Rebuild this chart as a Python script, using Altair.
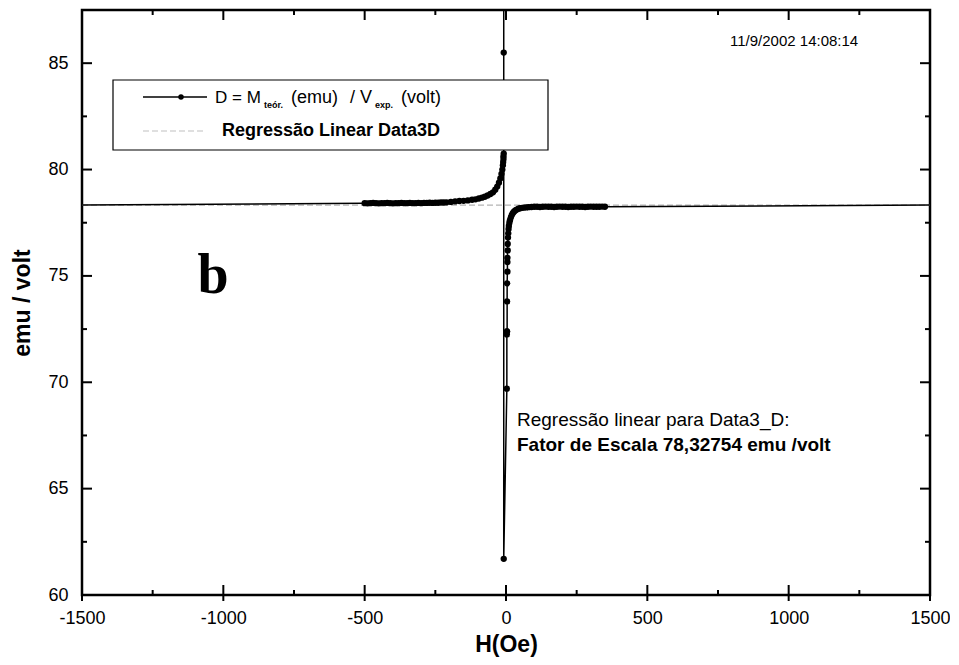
import altair as alt
import pandas as pd

# ---------------- data ----------------
H = [-1500,
     -500, -490, -480, -470, -460, -450, -440, -430, -420, -410, -400, -390, -380, -370, -360,
     -350, -340, -330, -320, -310, -300, -290, -280, -270, -260, -250, -240, -230, -220, -210,
     -195, -180, -165, -150, -135, -120, -108, -96, -85, -75, -65, -55, -46, -38, -31, -25,
     -20, -16, -13, -11, -10, -9, -9, -8, -8, -8, -8,
     -8, 3, 3, 3, 4, 4, 4, 5, 5, 5, 6, 6, 7, 8, 9, 10, 12, 14, 17, 20, 24, 28, 33, 38, 44,
     50, 57, 64, 72, 80, 90, 100, 110, 120, 130, 140, 150, 160, 170, 180, 190, 200, 210, 220,
     230, 240, 250, 260, 270, 280, 290, 300, 310, 320, 330, 340, 350, 1500]
D = [78.33,
     78.42, 78.41, 78.42, 78.43, 78.42, 78.41, 78.42, 78.42, 78.43, 78.42, 78.41, 78.42, 78.42, 78.43, 78.42,
     78.42, 78.43, 78.42, 78.42, 78.43, 78.42, 78.43, 78.43, 78.44, 78.43, 78.44, 78.44, 78.45, 78.45, 78.46,
     78.48, 78.50, 78.52, 78.53, 78.55, 78.58, 78.60, 78.64, 78.68, 78.72, 78.78, 78.85, 78.93, 79.05, 79.20, 79.38,
     79.58, 79.80, 80.00, 80.20, 80.35, 80.50, 80.62, 80.75, 82.0, 92.0, 85.5,
     61.7, 69.7, 72.25, 72.35, 72.4, 73.8, 74.65, 75.2, 75.65, 75.85, 76.2, 76.5, 76.8, 77.0, 77.2, 77.35,
     77.5, 77.62, 77.75, 77.85, 77.95, 78.02, 78.08, 78.12, 78.16,
     78.18, 78.20, 78.21, 78.22, 78.23, 78.24, 78.25, 78.25, 78.24, 78.25, 78.26, 78.25, 78.25, 78.24, 78.25,
     78.26, 78.25, 78.25, 78.24, 78.25, 78.25, 78.26, 78.25, 78.25, 78.24, 78.25, 78.26, 78.25, 78.25, 78.25,
     78.26, 78.25, 78.33]

REG_H = [-1500, 1500]
REG_D = [78.32754, 78.32754]

X_MAJOR = [-1500, -1000, -500, 0, 500, 1000, 1500]
X_MINOR = [-1250, -750, -250, 250, 750, 1250]
Y_MAJOR = [60, 65, 70, 75, 80, 85]
Y_MINOR = [62.5, 67.5, 72.5, 77.5, 82.5]

LEGEND_1 = ["D = M", "teór.", "(emu)", "/ V", "exp.", "(volt)"]
LEGEND_2 = "Regressão Linear Data3D"
NOTE_1 = "Regressão linear para Data3_D:"
NOTE_2 = "Fator de Escala  78,32754 emu /volt"
STAMP = "11/9/2002  14:08:14"
PANEL = "b"

W, HGT = 848, 585
FONT = "Liberation Sans"

df = pd.DataFrame({"H": H, "D": D, "i": list(range(len(H)))})
reg = pd.DataFrame({"H": REG_H, "D": REG_D})

xs = alt.Scale(domain=[-1500, 1500], nice=False, zero=False)
ys = alt.Scale(domain=[60, 87.5], nice=False, zero=False)

x_axis = alt.Axis(values=X_MAJOR, title="H(Oe)", labelPadding=14, titlePadding=6,
                  labelFontSize=18, titleFontSize=23, labelExpr="'' + datum.value",
                  labelFlush=False)
y_axis = alt.Axis(values=Y_MAJOR, title="emu / volt", labelPadding=14, titlePadding=13,
                  labelFontSize=18, titleFontSize=23, labelExpr="'' + datum.value")

reg_line = alt.Chart(reg).mark_line(color="#b4b4b4", strokeWidth=1.2, strokeDash=[6, 3]).encode(
    x=alt.X("H:Q", scale=xs, axis=x_axis),
    y=alt.Y("D:Q", scale=ys, axis=y_axis),
)

data_line = alt.Chart(df).mark_line(color="black", strokeWidth=1.5, clip=True).encode(
    x=alt.X("H:Q", scale=xs),
    y=alt.Y("D:Q", scale=ys),
    order="i:Q",
)
data_pts = alt.Chart(df).transform_filter(
    "abs(datum.H) < 1500"
).mark_circle(color="black", size=40, opacity=1, clip=True).encode(
    x=alt.X("H:Q", scale=xs),
    y=alt.Y("D:Q", scale=ys),
)

def xticks(vals, y0, y1):
    return alt.Chart(pd.DataFrame({"H": vals})).mark_rule(color="black", strokeWidth=2).encode(
        x=alt.X("H:Q", scale=xs), y=alt.value(y0), y2=alt.value(y1))

def yticks(vals, x0, x1):
    return alt.Chart(pd.DataFrame({"D": vals})).mark_rule(color="black", strokeWidth=2).encode(
        y=alt.Y("D:Q", scale=ys), x=alt.value(x0), x2=alt.value(x1))

ticks = [
    xticks(X_MAJOR, 0, 10), xticks(X_MINOR, 0, 5),
    xticks(X_MAJOR, HGT - 10, HGT + 6), xticks(X_MINOR, HGT - 5, HGT),
    yticks(Y_MAJOR, 0, 10), yticks(Y_MINOR, 0, 5),
    yticks(Y_MAJOR, W - 10, W), yticks(Y_MINOR, W - 5, W),
]

# legend box
leg_box = alt.Chart(pd.DataFrame({"k": [0]})).mark_rect(fill="white", stroke="black", strokeWidth=1.2).encode(
    x=alt.value(31), x2=alt.value(466), y=alt.value(70), y2=alt.value(140))
leg_l1 = alt.Chart(pd.DataFrame({"k": [0]})).mark_rule(color="black", strokeWidth=1.3).encode(
    x=alt.value(61), x2=alt.value(125), y=alt.value(87))
leg_p1 = alt.Chart(pd.DataFrame({"k": [0]})).mark_circle(color="black", size=30, opacity=1).encode(
    x=alt.value(99), y=alt.value(87))
leg_l2 = alt.Chart(pd.DataFrame({"k": [0]})).mark_rule(color="#c0c0c0", strokeWidth=1.2, strokeDash=[6, 3]).encode(
    x=alt.value(61), x2=alt.value(123), y=alt.value(121))

def txt(s, x, y, size, weight="normal", font=FONT, align="left"):
    return alt.Chart(pd.DataFrame({"t": [s]})).mark_text(
        align=align, baseline="middle", font=font, fontSize=size, fontWeight=weight, color="black"
    ).encode(text="t:N", x=alt.value(x), y=alt.value(y))

leg_texts = [
    txt(LEGEND_1[0], 133, 88, 17),
    txt(LEGEND_1[1], 182, 95, 9, "bold"),
    txt(LEGEND_1[2], 209, 88, 18),
    txt(LEGEND_1[3], 268, 88, 18),
    txt(LEGEND_1[4], 293, 95, 9, "bold"),
    txt(LEGEND_1[5], 319, 88, 18),
    txt(LEGEND_2, 140, 121, 18, "bold"),
]

notes = [
    txt(NOTE_1, 435, 410, 19),
    txt(NOTE_2, 435, 435, 19, "bold"),
    txt(STAMP, 648, 31, 15),
    txt(PANEL, 131, 266, 56, "bold", "Liberation Serif", "center"),
]

chart = alt.layer(
    reg_line, data_line, data_pts, *ticks, leg_box, leg_l1, leg_p1, leg_l2, *leg_texts, *notes
).properties(
    width=W, height=HGT,
    autosize=alt.AutoSizeParams(type="none"),
    padding={"left": 74, "top": 2, "right": 20, "bottom": 62},
    background="white",
).configure_view(
    stroke="black", strokeWidth=2.5
).configure_axis(
    grid=False, domain=False, ticks=False, tickSize=0,
    labelFont=FONT, titleFont=FONT, labelColor="black", titleColor="black",
    titleFontWeight="bold",
)

chart.save("out.html", embed_options={"renderer": "svg", "actions": False})
